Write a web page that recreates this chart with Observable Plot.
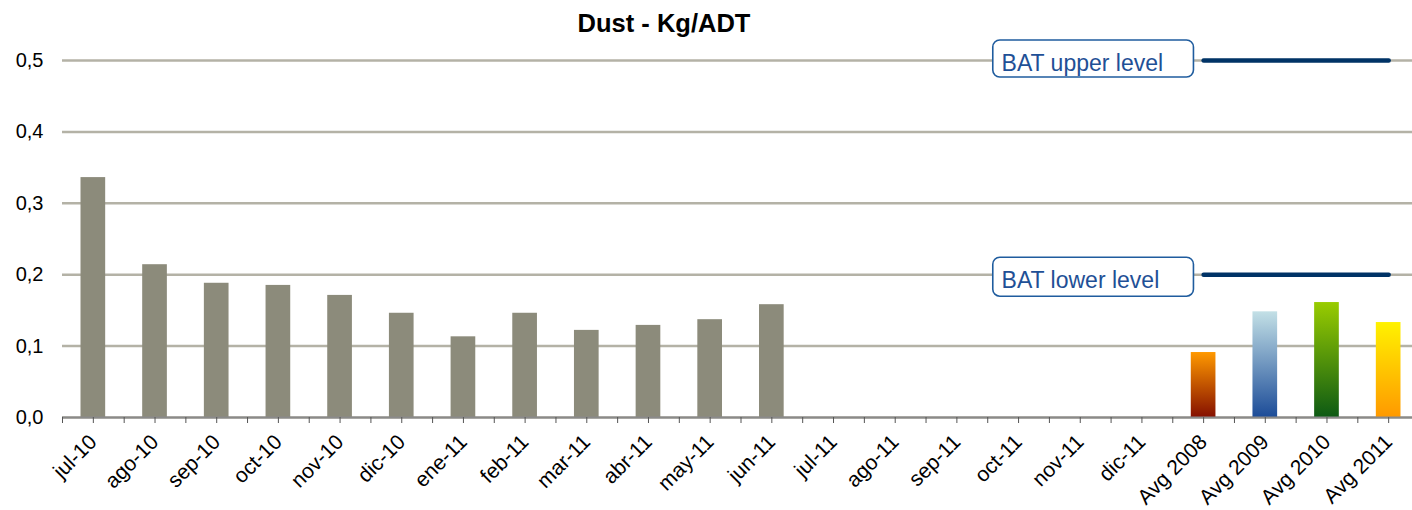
<!DOCTYPE html>
<html>
<head>
<meta charset="utf-8">
<script src="https://cdn.jsdelivr.net/npm/d3@7"></script>
<script src="https://cdn.jsdelivr.net/npm/@observablehq/plot@0.6"></script>
<style>
  html, body { margin: 0; padding: 0; background: #fff; overflow: hidden; }
  #title { width: 1412px; box-sizing: border-box; padding-right: 84px; height: 40px;
           text-align: center; font: bold 25.5px "Liberation Sans", Arial, sans-serif; line-height: 46px; color: #000; overflow: visible; }
  svg { display: block; max-width: none !important; }
</style>
</head>
<body>
<div id="title">Dust - Kg/ADT</div>
<div id="chart"></div>
<script>
const categories = ["jul-10","ago-10","sep-10","oct-10","nov-10","dic-10","ene-11","feb-11","mar-11","abr-11","may-11","jun-11",
  "jul-11","ago-11","sep-11","oct-11","nov-11","dic-11","Avg 2008","Avg 2009","Avg 2010","Avg 2011"];
const monthlyValues = [0.336,0.214,0.188,0.185,0.171,0.146,0.113,0.146,0.122,0.129,0.137,0.158,
  null,null,null,null,null,null];
const averageLabels = ["Avg 2008","Avg 2009","Avg 2010","Avg 2011"];
const averageValues = [0.091,0.148,0.161,0.133];
const yTicks = [0,0.1,0.2,0.3,0.4,0.5];
const batLabels = ["BAT upper level","BAT lower level"];
const batValues = [0.5,0.2];

// styles
const gradients = [
  {id: "g2008", top: "#FF9900", bottom: "#851000"},
  {id: "g2009", top: "#C3E0E6", bottom: "#1C4C98"},
  {id: "g2010", top: "#99CC00", bottom: "#0D5A14"},
  {id: "g2011", top: "#FFF200", bottom: "#FF9900"}
];

const monthly = categories.slice(0, monthlyValues.length)
  .map((c, i) => ({cat: c, value: monthlyValues[i]}))
  .filter(d => d.value != null);
const averages = averageLabels.map((c, i) => ({cat: c, value: averageValues[i], grad: gradients[i].id}));

const W = 1412, H = 470, ML = 62, XR = 1419, MT = 20, MB = 93;
const step = (XR - ML) / categories.length;
const font = '"Liberation Sans", Arial, sans-serif';

const defsMark = () => {
  const defs = d3.create("svg:defs");
  for (const g of gradients) {
    const lg = defs.append("linearGradient").attr("id", g.id)
      .attr("x1", 0).attr("y1", 0).attr("x2", 0).attr("y2", 1);
    lg.append("stop").attr("offset", "0%").attr("stop-color", g.top);
    lg.append("stop").attr("offset", "100%").attr("stop-color", g.bottom);
  }
  return defs.node();
};

const marks = [
  defsMark,
  Plot.gridY(yTicks, {stroke: "#B4B2A6", strokeOpacity: 1, strokeWidth: 2.5}),
  Plot.barY(monthly, {x: "cat", y: "value", fill: "#8C8B7B"}),
  ...averages.map(a => Plot.barY([a], {x: "cat", y: "value", fill: `url(#${a.grad})`})),
  Plot.ruleY([0], {stroke: "#8A8A8A", strokeWidth: 2}),
  Plot.axisX({ticks: categories, tickSize: 6, text: null, label: null, dx: -step/2, stroke: "#555"}),
  Plot.axisX({ticks: categories, tickSize: 6, tickRotate: -45, tickPadding: 15, fontSize: 21,
              fill: "#000", stroke: "#555", label: null}),
  Plot.axisY({ticks: yTicks, tickSize: 0, tickPadding: 19, fontSize: 20, fill: "#000",
              tickFormat: d => d3.format(".1f")(d).replace(".", ","), label: null}),
];

batValues.forEach((v, i) => {
  marks.push(Plot.line(["Avg 2008","Avg 2011"].map(c => ({cat: c, value: v})),
    {x: "cat", y: "value", stroke: "#003366", strokeWidth: 4.5, strokeLinecap: "round"}));
  const up = i === 0;
  marks.push(Plot.barY([{cat: "Avg 2008", value: v}], {
    x: "cat", y1: "value", y2: "value", dx: -110,
    insetLeft: -88, insetRight: -88,
    insetTop: up ? -20 : -17, insetBottom: up ? -17 : -22,
    rx: 7, fill: "white", stroke: "#1F5C9E", strokeWidth: 1.6}));
  marks.push(Plot.text([{cat: "Avg 2008", value: v, label: batLabels[i]}], {
    x: "cat", y: "value", text: "label", dx: -202, dy: up ? 10 : 13,
    textAnchor: "start", lineAnchor: "bottom", fontSize: 23, fill: "#1F5096", fontFamily: font}));
});

const chart = Plot.plot({
  width: W, height: H,
  marginLeft: ML, marginRight: 0, marginTop: MT, marginBottom: MB,
  style: {fontFamily: font, background: "white", overflow: "visible", maxWidth: "none"},
  x: {type: "band", domain: categories, range: [ML, XR], paddingInner: 0.6, paddingOuter: 0.3, round: false, axis: null},
  y: {domain: [0, 0.5], axis: null},
  marks
});
document.getElementById("chart").appendChild(chart);
</script>
</body>
</html>
